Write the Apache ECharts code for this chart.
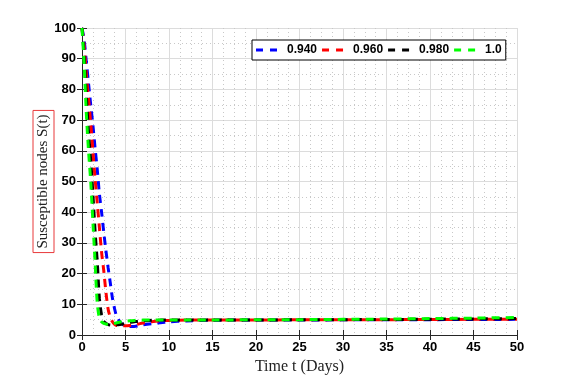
<!DOCTYPE html>
<html>
<head>
<meta charset="utf-8">
<script src="https://cdn.jsdelivr.net/npm/echarts@6/dist/echarts.min.js"></script>
<style>
  html, body { margin: 0; padding: 0; background: #fff; }
  #chart { width: 588px; height: 376px; }
</style>
</head>
<body>
<div id="chart"></div>
<script>
// time axis (days)
const tDays = [0, 0.25, 0.5, 0.75, 1, 1.25, 1.5, 1.75, 2, 2.25, 2.5, 2.75, 3, 3.25, 3.5, 3.75, 4, 4.5, 5, 5.5, 6, 6.5, 7, 8, 9, 10, 12, 15, 20, 25, 30, 35, 40, 45, 50]

// S(t) for each parameter value
const s0940 = [100, 96, 89, 82, 75, 68.5, 61, 54, 46, 40, 33.5, 27.5, 22, 17, 12, 8.5, 6, 3.8, 3.0, 2.8, 2.8, 3.0, 3.3, 3.7, 4.0, 4.3, 4.6, 4.8, 4.9, 4.9, 4.95, 5.0, 5.0, 5.05, 5.1]
const s0960 = [100, 94, 85, 77, 69, 60, 51, 43, 35, 27, 21, 14, 8.5, 5.8, 4.3, 3.5, 3.1, 3.0, 3.0, 3.1, 3.3, 3.6, 3.9, 4.3, 4.6, 4.75, 4.85, 4.9, 4.9, 4.95, 5.0, 5.0, 5.05, 5.1, 5.15]
const s0980 = [100, 91, 78, 66, 57, 46, 34, 24, 12, 6.5, 4.5, 3.8, 3.4, 3.25, 3.2, 3.2, 3.3, 3.5, 3.8, 4.1, 4.3, 4.5, 4.6, 4.8, 4.85, 4.9, 4.9, 4.9, 4.9, 4.95, 5.0, 5.05, 5.15, 5.25, 5.35]
const s1000 = [100, 88, 72, 60, 50, 37, 24, 10.5, 5.5, 4.3, 3.8, 3.6, 3.5, 3.5, 3.6, 3.8, 4.0, 4.3, 4.5, 4.65, 4.75, 4.8, 4.85, 4.9, 4.9, 4.9, 4.9, 4.9, 4.95, 5.0, 5.1, 5.2, 5.35, 5.5, 5.7]

const legendNames = ['0.940', '0.960', '0.980', '1.0']
const colors = ['#0000ff', '#ff0000', '#000000', '#00ff00']
const seriesValues = [s0940, s0960, s0980, s1000]

const axisColor = '#262626'
const tickFont = { color: '#000', fontWeight: 'bold', fontSize: 13, fontFamily: 'Liberation Sans, Arial, sans-serif' }
const serif = 'Liberation Serif, Times New Roman, serif'

const chart = echarts.init(document.getElementById('chart'))

chart.setOption({
  animation: false,
  backgroundColor: '#fff',
  grid: { left: 82, right: 71, top: 28, bottom: 41, outerBoundsMode: 'none' },
  legend: {
    data: legendNames,
    left: 252,
    top: 40,
    orient: 'horizontal',
    icon: 'path://M0,0H7V3H0Z M14,0H21V3H14Z',
    itemWidth: 21,
    itemHeight: 3,
    itemGap: 5,
    padding: [4, 4, 4, 4],
    borderColor: '#000',
    borderWidth: 1,
    backgroundColor: '#fff',
    textStyle: { color: '#000', fontWeight: 'bold', fontSize: 12, fontFamily: 'Liberation Sans, Arial, sans-serif', padding: [0, 0, 0, 5] }
  },
  xAxis: [
    {
      type: 'value',
      min: 0,
      max: 50,
      interval: 5,
      name: 'Time t (Days)',
      nameLocation: 'middle',
      nameGap: 24,
      nameMoveOverlap: false,
      nameTextStyle: { color: '#222', fontSize: 16, fontFamily: serif, verticalAlign: 'top' },
      axisLine: { onZero: false, lineStyle: { color: axisColor } },
      axisTick: { inside: true, length: 5, lineStyle: { color: axisColor } },
      axisLabel: { ...tickFont, margin: 6 },
      splitLine: { show: true, lineStyle: { color: '#dcdcdc', width: 1 } },
      minorTick: { show: false, splitNumber: 4 },
      minorSplitLine: { show: true, lineStyle: { color: '#c8c8c8', type: [1, 3], width: 1 } }
    },
    {
      type: 'value',
      position: 'top',
      min: 0,
      max: 50,
      interval: 5,
      axisLine: { show: true, lineStyle: { color: axisColor } },
      axisTick: { show: true, inside: true, length: 5, lineStyle: { color: axisColor } },
      axisLabel: { show: false },
      splitLine: { show: false }
    }
  ],
  yAxis: [
    {
      type: 'value',
      min: 0,
      max: 100,
      interval: 10,
      name: 'Susceptible nodes S(t)',
      nameLocation: 'middle',
      nameGap: 28,
      nameMoveOverlap: false,
      nameTextStyle: {
        color: '#222',
        fontSize: 15,
        fontFamily: serif,
        borderColor: '#e8393b',
        borderWidth: 1,
        padding: [3, 4, 3, 4]
      },
      axisLine: { show: true, onZero: false, lineStyle: { color: axisColor } },
      axisTick: { show: true, inside: true, length: 5, lineStyle: { color: axisColor } },
      axisLabel: { ...tickFont, margin: 6 },
      splitLine: { show: true, lineStyle: { color: '#dcdcdc', width: 1 } },
      minorTick: { show: false, splitNumber: 2 },
      minorSplitLine: { show: true, lineStyle: { color: '#c8c8c8', type: [1, 3], width: 1 } }
    },
    {
      type: 'value',
      position: 'right',
      min: 0,
      max: 100,
      interval: 10,
      axisLine: { show: true, lineStyle: { color: axisColor } },
      axisTick: { show: true, inside: true, length: 5, lineStyle: { color: axisColor } },
      axisLabel: { show: false },
      splitLine: { show: false }
    }
  ],
  series: legendNames.map((name, i) => ({
    name: name,
    type: 'line',
    xAxisIndex: 0,
    yAxisIndex: 0,
    showSymbol: false,
    symbol: 'none',
    smooth: 0.3,
    color: colors[i],
    lineStyle: { color: colors[i], width: 3, type: [8, 6] },
    data: tDays.map((t, k) => [t, seriesValues[i][k]]),
    z: 2 + i
  }))
})
</script>
</body>
</html>
